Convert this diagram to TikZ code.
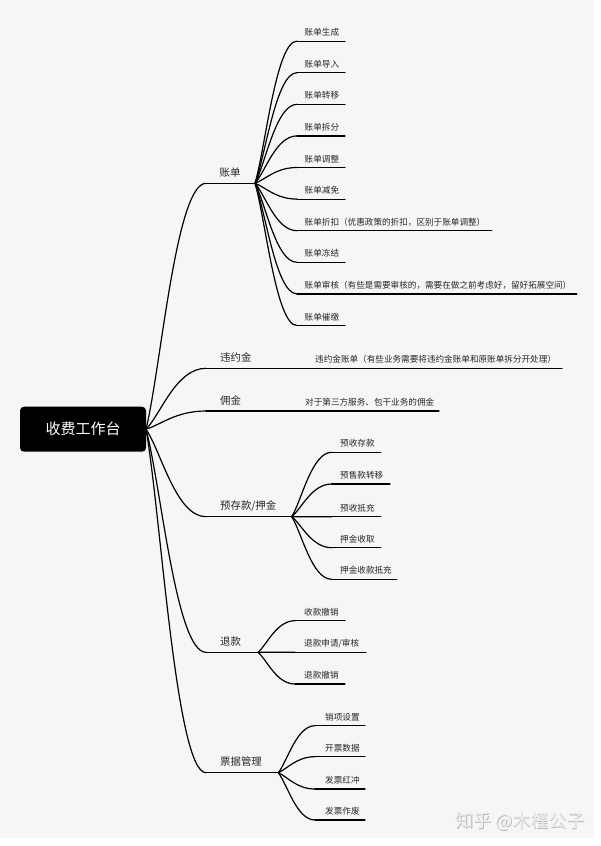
\documentclass[tikz,border=0pt]{standalone}
\usepackage{fontspec}
\setmainfont{Noto Sans CJK SC}
\usetikzlibrary{calc}
\definecolor{bgc}{HTML}{F6F6F6}
\definecolor{txt}{HTML}{262626}
\definecolor{wmshadow}{HTML}{B8B8B8}
\definecolor{wmface}{HTML}{EDEDED}
\tikzset{
  br/.style={line width=1.2pt, black, line cap=round},
  lvone/.style={font=\fontsize{10.4}{12}\selectfont, anchor=base west, inner sep=0pt, text=txt},
  leaf/.style={font=\fontsize{8.6}{10}\selectfont, anchor=base west, inner sep=0pt, text=txt},
  rootbox/.style={fill=black, rounded corners=4pt, minimum width=126pt, minimum height=45pt,
    inner sep=0pt, text=white, font=\fontsize{15}{18}\selectfont},
  wm/.style={font=\fontsize{18}{20}\selectfont, inner sep=0pt},
}
% name, x1, x2, y, label dx, label dy, style, text
\newcommand\mmtopic[8]{%
  \coordinate (#1-s) at (#2,#4);
  \coordinate (#1-e) at (#3,#4);
  \draw[br] (#1-s) -- (#1-e);
  \node[#7] (#1) at ($(#1-s)+(#5,-#6)$) {#8};
}
\newcommand\mmconn[2]{%
  \draw[br] (#1) .. controls ($(#1)!0.25!(#2)$) and ($(#1|-#2)!0.5!(#2)$) .. (#2);
}
\begin{document}
\begin{tikzpicture}[x=1pt,y=-1pt]
\fill[white] (0,0) rectangle (600,846);
\useasboundingbox (0,0) rectangle (600,846);
\fill[bgc] (0,0) rectangle (594,838);

% root
\node[rootbox] (root) at (83,429.2) {收费工作台};
\coordinate (root-e) at (146,429.2);

% level one
\mmtopic{zd}{206}{255}{183.3}{13.5}{6.8}{lvone}{账单}
\mmtopic{wyj}{206}{300}{368.3}{14}{6.8}{lvone}{违约金}
\mmtopic{yj}{206}{300}{411}{14}{6.8}{lvone}{佣金}
\mmtopic{yck}{206}{291.7}{516.7}{14}{6.8}{lvone}{预存款/押金}
\mmtopic{tk}{206}{258}{652.3}{14}{6.8}{lvone}{退款}
\mmtopic{pj}{206}{278.3}{772.7}{14}{6.8}{lvone}{票据管理}

\foreach \t in {zd,wyj,yj,yck,tk,pj} {\mmconn{root-e}{\t-s}}

% 账单 children
\mmtopic{b1}{297}{345}{41.1}{7.5}{5.5}{leaf}{账单生成}
\mmtopic{b2}{297}{345}{72.7}{7.5}{5.5}{leaf}{账单导入}
\mmtopic{b3}{297}{345}{104.3}{7.5}{5.5}{leaf}{账单转移}
\mmtopic{b4}{297}{345}{135.9}{7.5}{5.5}{leaf}{账单拆分}
\mmtopic{b5}{297}{345}{167.5}{7.5}{5.5}{leaf}{账单调整}
\mmtopic{b6}{297}{345}{199.1}{7.5}{5.5}{leaf}{账单减免}
\mmtopic{b7}{297}{491.7}{230.7}{7.5}{5.5}{leaf}{账单折扣（优惠政策的折扣，区别于账单调整）}
\mmtopic{b8}{297}{345}{262.3}{7.5}{5.5}{leaf}{账单冻结}
\mmtopic{b9}{297}{576.7}{293.9}{7.5}{5.5}{leaf}{账单审核（有些是需要审核的，需要在做之前考虑好，留好拓展空间）}
\mmtopic{b10}{297}{345}{325.5}{7.5}{5.5}{leaf}{账单催缴}
\foreach \t in {b1,b2,b3,b4,b5,b6,b7,b8,b9,b10} {\mmconn{zd-e}{\t-s}}

% 违约金 / 佣金 children
\mmtopic{w1}{300}{562}{368.3}{15}{5.5}{leaf}{违约金账单（有些业务需要将违约金账单和原账单拆分开处理）}
\mmtopic{y1}{300}{439}{411}{5}{5.5}{leaf}{对于第三方服务、包干业务的佣金}

% 预存款/押金 children
\mmtopic{c1}{331.7}{380.7}{452.3}{8.3}{5.5}{leaf}{预收存款}
\mmtopic{c2}{331.7}{390}{484}{8.3}{5.5}{leaf}{预售款转移}
\mmtopic{c3}{331.7}{380.7}{516.7}{8.3}{5.5}{leaf}{预收抵充}
\mmtopic{c4}{331.7}{380.7}{547.7}{8.3}{5.5}{leaf}{押金收取}
\mmtopic{c5}{331.7}{396.7}{579.3}{8.3}{5.5}{leaf}{押金收款抵充}
\foreach \t in {c1,c2,c3,c4,c5} {\mmconn{yck-e}{\t-s}}

% 退款 children
\mmtopic{t1}{295}{345}{620.7}{9}{5.5}{leaf}{收款撤销}
\mmtopic{t2}{295}{366}{652.3}{9}{5.5}{leaf}{退款申请/审核}
\mmtopic{t3}{295}{345}{684}{9}{5.5}{leaf}{退款撤销}
\foreach \t in {t1,t2,t3} {\mmconn{tk-e}{\t-s}}

% 票据管理 children
\mmtopic{p1}{315}{365}{725.7}{10}{5.5}{leaf}{销项设置}
\mmtopic{p2}{315}{365}{756.7}{10}{5.5}{leaf}{开票数据}
\mmtopic{p3}{315}{365}{789}{10}{5.5}{leaf}{发票红冲}
\mmtopic{p4}{315}{365}{820}{10}{5.5}{leaf}{发票作废}
\foreach \t in {p1,p2,p3,p4} {\mmconn{pj-e}{\t-s}}

% watermark
\node[wm, text=wmshadow] (wmsh) at (521.3,822.5) {知乎 @木槿公子};
\node[wm, text=wmface] (wmark) at (520.5,821.7) {知乎 @木槿公子};
\end{tikzpicture}
\end{document}
